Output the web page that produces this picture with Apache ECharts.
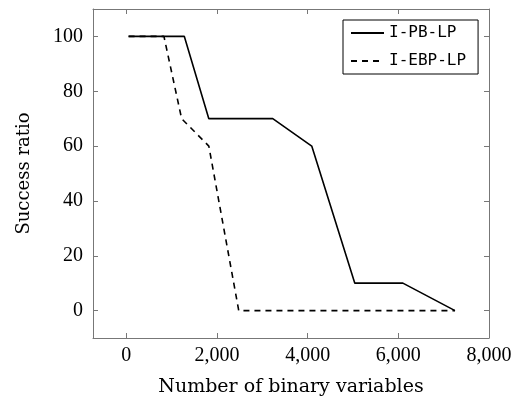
<!DOCTYPE html>
<html><head><meta charset="utf-8">
<script src="https://cdn.jsdelivr.net/npm/echarts@6/dist/echarts.min.js"></script>
<style>html,body{margin:0;padding:0;background:#fff}#c{width:521px;height:398px}</style>
</head><body><div id="c"></div>
<script>
const xTicks = [0, 2000, 4000, 6000, 8000];
const yTicks = [0, 20, 40, 60, 80, 100];
const seriesNames = ['I-PB-LP', 'I-EBP-LP'];
const pbX = [50, 1280, 1820, 3230, 4090, 5040, 6100, 7250];
const pbY = [100, 100, 70, 70, 60, 10, 10, 0];
const ebpX = [50, 830, 1220, 1820, 2480, 7250];
const ebpY = [100, 100, 70, 60, 0, 0];

const serif = 'Liberation Serif';
const titleFont = 'DejaVu Serif';
const frame = '#777';
const chart = echarts.init(document.getElementById('c'));
function fmt(v){ return v.toLocaleString('en-US'); }
const xBase = {type:'value', min:-735, max:8000,
  axisLine:{show:true, onZero:false, lineStyle:{color:frame,width:1}},
  axisTick:{show:true, inside:true, length:5, customValues:xTicks, lineStyle:{color:frame}},
  splitLine:{show:false}};
const yBase = {type:'value', min:-10, max:110,
  axisLine:{show:true, onZero:false, lineStyle:{color:frame,width:1}},
  axisTick:{show:true, inside:true, length:5, customValues:yTicks, lineStyle:{color:frame}},
  splitLine:{show:false}};
chart.setOption({
  animation:false,
  grid:{left:93, right:32, top:9, bottom:60, containLabel:false, outerBoundsMode:'none'},
  xAxis:[
    Object.assign({}, xBase, {position:'bottom',
      axisLabel:{fontFamily:serif, fontSize:20, color:'#000', margin:8,
        customValues:xTicks, showMinLabel:true, showMaxLabel:true, formatter:v => fmt(v)},
      name:'Number of binary variables', nameLocation:'middle', nameGap:40,
      nameTextStyle:{fontFamily:titleFont, fontSize:19, color:'#000'}}),
    Object.assign({}, xBase, {position:'top', axisLabel:{show:false}})
  ],
  yAxis:[
    Object.assign({}, yBase, {position:'left',
      axisLabel:{fontFamily:serif, fontSize:20, color:'#000', margin:10,
        customValues:yTicks, formatter:v => String(v)},
      name:'Success ratio', nameLocation:'middle', nameGap:60,
      nameTextStyle:{fontFamily:titleFont, fontSize:18, color:'#000'}}),
    Object.assign({}, yBase, {position:'right', axisLabel:{show:false}})
  ],
  legend:{
    orient:'vertical', left:343, top:20,
    backgroundColor:'#fff', borderColor:'#000', borderWidth:1,
    padding:[5,12,5,7], itemGap:12, itemWidth:33, itemHeight:14,
    itemStyle:{opacity:0},
    textStyle:{fontFamily:'DejaVu Sans Mono', fontSize:16, color:'#000'},
    data:seriesNames
  },
  series:[
    {name:seriesNames[0], type:'line', symbol:'none', xAxisIndex:0, yAxisIndex:0,
      data:pbX.map((x,i)=>[x,pbY[i]]),
      lineStyle:{color:'#000', width:1.6, type:'solid'}, itemStyle:{color:'#000'}},
    {name:seriesNames[1], type:'line', symbol:'none', xAxisIndex:0, yAxisIndex:0,
      data:ebpX.map((x,i)=>[x,ebpY[i]]),
      lineStyle:{color:'#000', width:1.6, type:[6,5]}, itemStyle:{color:'#000'}}
  ]
});
</script></body></html>
